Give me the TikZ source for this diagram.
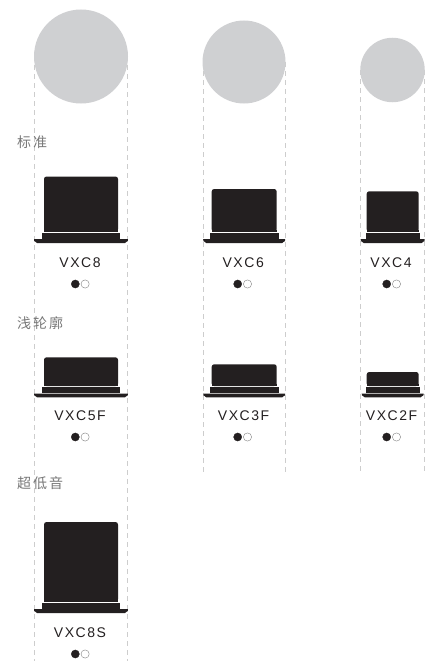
\documentclass[tikz,border=0pt]{standalone}
\usepackage{fontspec}
\newfontfamily\labfont[LetterSpace=11]{Liberation Sans}
\newfontfamily\cjkfont[LetterSpace=14]{Noto Sans CJK SC}
\definecolor{ink}{HTML}{231F20}
\definecolor{disc}{HTML}{CFD0D2}
\definecolor{guide}{HTML}{CDCDCD}
\definecolor{cap}{HTML}{777777}
\tikzset{
  discshape/.style={circle,fill=disc,inner sep=0pt,minimum size=#1},
  guideline/.style={draw=guide,line width=0.9pt,dash pattern=on 5pt off 4pt},
  modellabel/.style={font=\labfont\fontsize{14}{15}\selectfont,text=ink,inner sep=0pt,anchor=center},
  sectionlabel/.style={font=\cjkfont\fontsize{14}{16}\selectfont,text=cap,inner sep=0pt,anchor=west},
  dotfull/.style={circle,fill=ink,draw=ink,line width=0.3pt,inner sep=0pt,minimum size=8.2pt},
  dotopen/.style={circle,fill=white,draw=black!50,line width=0.4pt,inner sep=0pt,minimum size=8.2pt},
}
% name, centre x, half body, half box, half flange, body top, body bottom
\newcommand{\spk}[7]{%
  \fill[ink,rounded corners=2.5pt] (#2-#3,#7) -- (#2-#3,#6) -- (#2+#3,#6) -- (#2+#3,#7) -- cycle;
  \fill[ink] (#2-#3,#7-2) rectangle (#2+#3,#7);
  \fill[ink] (#2-#4,#7+1) rectangle (#2+#4,#7+7);
  \fill[ink] (#2-#5,#7+7.5) -- (#2+#5,#7+7.5) -- (#2+#5-0.3,#7+9.5) to[out=100,in=0] (#2+#5-3,#7+11.3)
     -- (#2-#5+3,#7+11.3) to[out=180,in=80] (#2-#5+0.3,#7+9.5) -- cycle;
}
\begin{document}
\begin{tikzpicture}[x=1pt,y=-1pt]
\useasboundingbox (0,0) rectangle (425,661);
% guides
\coordinate (g1a) at (34.2,56); \coordinate (g1b) at (34.2,661);
\coordinate (g2a) at (127.7,56); \coordinate (g2b) at (127.7,661);
\coordinate (g3a) at (203,62); \coordinate (g3b) at (203,473);
\coordinate (g4a) at (285,62); \coordinate (g4b) at (285,473);
\coordinate (g5a) at (360.4,70); \coordinate (g5b) at (360.4,473);
\coordinate (g6a) at (424.5,70); \coordinate (g6b) at (424.5,473);
\draw[guideline] (g1a) -- (g1b);
\draw[guideline] (g2a) -- (g2b);
\draw[guideline] (g3a) -- (g3b);
\draw[guideline] (g4a) -- (g4b);
\draw[guideline] (g5a) -- (g5b);
\draw[guideline] (g6a) -- (g6b);
% discs
\node[discshape=94pt] (d1) at (81,56.5) {};
\node[discshape=83pt] (d2) at (244,62) {};
\node[discshape=64.5pt] (d3) at (392.5,70) {};
% section labels
\node[sectionlabel] (s1) at (17,142) {标准};
\node[sectionlabel] (s2) at (17,323) {浅轮廓};
\node[sectionlabel] (s3) at (17,483) {超低音};
% speakers
\spk{a}{81}{37}{39}{47}{176.5}{231.7}
\spk{b}{244.2}{32.5}{34.5}{41}{189}{231.7}
\spk{c}{392.7}{26}{27}{32}{191.3}{231.7}
\spk{d}{81}{37}{39}{47}{357.3}{386}
\spk{e}{244.2}{32.5}{34.5}{41}{364.3}{386}
\spk{f}{392.7}{26}{27}{31}{372}{386}
\spk{g}{81}{37}{39}{47}{522}{601.7}
% model labels
\node[modellabel] (m1) at (80,263) {VXC8};
\node[modellabel] (m2) at (243.2,263) {VXC6};
\node[modellabel] (m3) at (391,263) {VXC4};
\node[modellabel] (m4) at (80,415.7) {VXC5F};
\node[modellabel] (m5) at (243.6,415.7) {VXC3F};
\node[modellabel] (m6) at (391.6,415.7) {VXC2F};
\node[modellabel] (m7) at (80,632.7) {VXC8S};
% dots
\foreach \n/\x/\y in {p1/75.3/284,p2/237.7/284,p3/386.7/284,p4/75.3/437,p5/237.7/437,p6/386.7/437,p7/75.3/654}{
  \node[dotfull] (\n f) at (\x,\y) {};
  \node[dotopen] (\n o) at (\x+9.8,\y) {};
}
\end{tikzpicture}
\end{document}
